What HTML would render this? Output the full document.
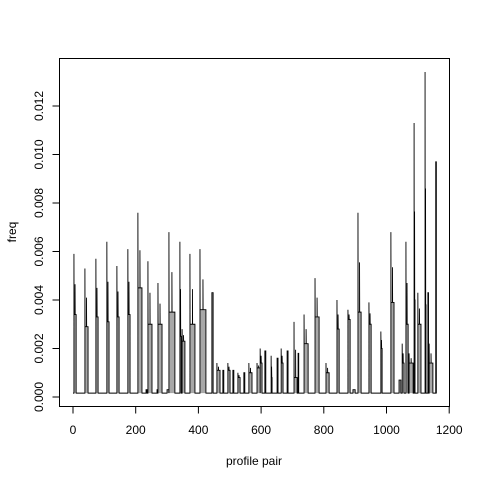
<!DOCTYPE html>
<html><head><meta charset="utf-8"><style>
body{margin:0;background:#fff}
svg text{font-family:"Liberation Sans",Arial,sans-serif;font-size:12px;fill:#000}
</style></head><body>
<svg id="chart" width="480" height="480" viewBox="0 0 480 480">
<rect x="59.5" y="58.5" width="390" height="348" fill="none" stroke="#000" stroke-width="1"/>
<g id="axes"></g>
<g id="fills"></g>
<g id="series"></g>
<text x="254" y="465" text-anchor="middle">profile pair</text>
<text x="0" y="0" text-anchor="middle" transform="translate(16,232) rotate(-90)">freq</text>
</svg>
<script>
const baseline = 0.00016;
const blockStart = [3,38,73,108,140,175,207,233,239,268,271,300,306,341,348,373,405,443,459,478,494,510,526,545,561,587,597,612,632,651,664,683,705,718,737,772,807,842,877,893,909,944,982,1014,1040,1050,1062,1072,1088,1100,1123,1132,1136,1157];
const blockEnd   = [10,48,80,115,147,182,220,236,252,270,284,306,325,345,357,389,424,447,469,481,501,513,533,548,571,597,603,615,635,654,670,686,715,720,750,785,817,849,884,900,919,951,986,1024,1046,1056,1069,1085,1091,1110,1126,1134,1148,1159];
const blockPeak  = [0.0059,0.0053,0.0057,0.0064,0.0054,0.0061,0.0076,0.0003,0.0056,0.0003,0.0047,0.0003,0.0068,0.0064,0.0028,0.0059,0.0061,0.0043,0.0014,0.0011,0.0014,0.0011,0.0010,0.0010,0.0014,0.0014,0.0020,0.0019,0.0017,0.0016,0.0020,0.0019,0.0031,0.0018,0.0034,0.0049,0.0014,0.0040,0.0036,0.0003,0.0076,0.0039,0.0027,0.0068,0.0007,0.0022,0.0064,0.0018,0.0113,0.0043,0.0134,0.0043,0.0022,0.0097];
const blockLevel = [0.0034,0.0029,0.0033,0.0031,0.0033,0.0034,0.0045,0.0003,0.0030,0.0003,0.0030,0.0003,0.0035,0.0025,0.0023,0.0030,0.0036,0.0043,0.0011,0.0011,0.0011,0.0011,0.0008,0.0010,0.0010,0.0012,0.0014,0.0019,0.0008,0.0016,0.0014,0.0019,0.0008,0.0018,0.0022,0.0033,0.0010,0.0028,0.0032,0.0003,0.0035,0.0030,0.0020,0.0039,0.0007,0.0014,0.0030,0.0014,0.0040,0.0030,0.0038,0.0043,0.0014,0.0097];
const xTicks = [0,200,400,600,800,1000,1200];
const yTicks = [0,0.002,0.004,0.006,0.008,0.010,0.012];
const yTickLabels = ["0.000","0.002","0.004","0.006","0.008","0.010","0.012"];

const X = v => 73 + v*0.3135;
const Y = v => 397 - v*24250;
const NS = "http://www.w3.org/2000/svg";
const axes = document.getElementById('axes');
const series = document.getElementById('series');
const fills = document.getElementById('fills');
function mk(tag, attrs, parent){const e=document.createElementNS(NS,tag);for(const k in attrs)e.setAttribute(k,attrs[k]);parent.appendChild(e);return e;}

const xl = mk('line',{x1:X(0),x2:X(1200),y1:406.5,y2:406.5,stroke:'#000'},axes);


xTicks.forEach(t=>{
  const l=mk('line',{x1:X(t),x2:X(t),y1:406.5,y2:413.5,stroke:'#000'},axes);
  
  
  const tx=mk('text',{x:X(t),y:434,'text-anchor':'middle'},axes);
  tx.textContent=t;
  
  
});
const yl = mk('line',{x1:59.5,x2:59.5,y1:Y(0),y2:Y(0.012),stroke:'#000'},axes);


yTicks.forEach((t,i)=>{
  const l=mk('line',{x1:52.5,x2:59.5,y1:Y(t),y2:Y(t),stroke:'#000'},axes);
  
  
  const tx=mk('text',{x:0,y:0,'text-anchor':'middle',transform:`translate(43,${Y(t)}) rotate(-90)`},axes);
  tx.textContent=yTickLabels[i];
  
  
});

let pts = [[0,baseline]];
blockStart.forEach((s,i)=>{
  const e=blockEnd[i], p=blockPeak[i], lv=blockLevel[i];
  const r = mk('rect',{x:X(s),y:Y(lv),width:Math.max(0.5,X(e)-X(s)),height:Y(baseline)-Y(lv),fill:'#a8a8a8'},fills);
  
  
  const m = s + (e-s)*0.5;
  pts.push([s,baseline],[s,p],[s+0.5,lv],[m,lv],[m,(p+lv)/2],[m+0.5,lv],[e,lv],[e,baseline]);
});
pts.push([1160,baseline]);
const d = pts.map((p,i)=>(i?'L':'M')+X(p[0]).toFixed(2)+','+Y(p[1]).toFixed(2)).join(' ');
const path = mk('path',{d:d,fill:'none',stroke:'#000','stroke-width':0.9},series);


</script>
</body></html>
